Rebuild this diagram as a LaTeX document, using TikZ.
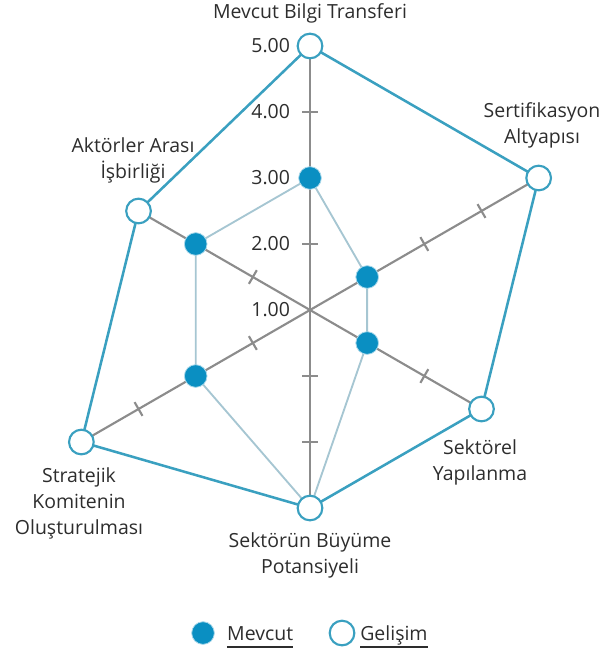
\documentclass[tikz,border=0pt]{standalone}
\usepackage{fontspec}
\setmainfont{Open Sans}
\usetikzlibrary{calc}
\definecolor{gelisim}{RGB}{58,160,192}
\definecolor{mevcut}{RGB}{10,143,194}
\definecolor{mevcutline}{RGB}{166,198,210}
\definecolor{eksen}{RGB}{140,140,140}
\definecolor{yazi}{RGB}{45,45,45}
\def\ektick(#1:#2){\draw[eksen line] ($(#1:#2)+(#1+90:0.12)$) -- ($(#1:#2)+(#1-90:0.12)$);}

\begin{document}
\begin{tikzpicture}[x=49.5pt, y=49.5pt,
	eksen line/.style={line width=1.6pt, color=eksen},
	gel line/.style={line width=1.9pt, color=gelisim},
	mev line/.style={line width=1.4pt, color=mevcutline},
	gel dot/.style={circle, draw=gelisim, line width=1.6pt, fill=white, minimum size=18.5pt, inner sep=0pt},
	mev dot/.style={circle, draw=mevcut!35, line width=0.6pt, fill=mevcut, minimum size=17pt, inner sep=0pt},
	etiket/.style={font=\fontsize{14.6}{19.5}\selectfont, text=yazi, align=center},
	deger/.style={font=\fontsize{14.6}{19.5}\selectfont, text=yazi, anchor=east, inner sep=0pt},
	alt cizgi/.style={line width=1.1pt, color=yazi}]
			%%%%% START %%%%%
			
			\useasboundingbox (-4.697, -5.242) rectangle (4.485, 4.697);
			
			\coordinate (o) at (0, 0);
			
			% gelisim
			\coordinate (g1) at (90:4);
			\coordinate (g2) at (30:4);
			\coordinate (g3) at (-30:3);
			\coordinate (g4) at (-90:3);
			\coordinate (g5) at (210:4);
			\coordinate (g6) at (150:3);
			
			% mevcut
			\coordinate (m1) at (90:2);
			\coordinate (m2) at (30:1);
			\coordinate (m3) at (-30:1);
			\coordinate (m4) at (-90:3);
			\coordinate (m5) at (210:2);
			\coordinate (m6) at (150:2);
			
			\draw[eksen line] (g1) -- (g4);
			\draw[eksen line] (g2) -- (g5);
			\draw[eksen line] (g3) -- (g6);
			
			\foreach \a in {90, 30, -30, -90, 210, 150}
				\foreach \r in {1, 2, 3} {\ektick(\a:\r)}
			
			\draw[mev line] (m1) -- (m2) -- (m3) -- (m4) -- (m5) -- (m6) -- cycle;
			\draw[gel line] (g1) -- (g2) -- (g3) -- (g4) -- (g5) -- (g6) -- cycle;
			
			\foreach \i in {1, ..., 6}
				\node[mev dot] (md\i) at (m\i) {};
			\foreach \i in {1, ..., 6}
				\node[gel dot] (gd\i) at (g\i) {};
			
			\node[deger] (d5) at (-0.30, 4) {5.00};
			\node[deger] (d4) at (-0.30, 3) {4.00};
			\node[deger] (d3) at (-0.30, 2) {3.00};
			\node[deger] (d2) at (-0.30, 1) {2.00};
			\node[deger] (d1) at (-0.30, 0) {1.00};
			
			\node[etiket] (l1) at (0, 4.5) {Mevcut Bilgi Transferi};
			\node[etiket] (l2) at (3.515, 2.795) {Sertifikasyon\\Altyapısı};
			\node[etiket] (l3) at (2.576, -2.303) {Sektörel\\Yapılanma};
			\node[etiket] (l4) at (0, -3.712) {Sektörün Büyüme\\Potansiyeli};
			\node[etiket] (l5) at (-3.5, -2.924) {Stratejik\\Komitenin\\Oluşturulması};
			\node[etiket] (l6) at (-2.682, 2.273) {Aktörler Arası\\İşbirliği};
			
			% legend
			\node[mev dot] (lgm) at (-1.621, -4.894) {};
			\node[etiket, anchor=base west, inner sep=0pt] (lgmt) at (-1.258, -5.0) {Mevcut};
			\node[gel dot] (lgg) at (0.485, -4.894) {};
			\node[etiket, anchor=base west, inner sep=0pt] (lggt) at (0.758, -5.0) {Gelişim};
			\draw[alt cizgi] ($(lgmt.base west)+(0, -0.106)$) -- ($(lgmt.base east)+(0, -0.106)$);
			\draw[alt cizgi] ($(lggt.base west)+(0, -0.106)$) -- ($(lggt.base east)+(0, -0.106)$);
			
			%%%%% END %%%%%
\end{tikzpicture}
\end{document}
